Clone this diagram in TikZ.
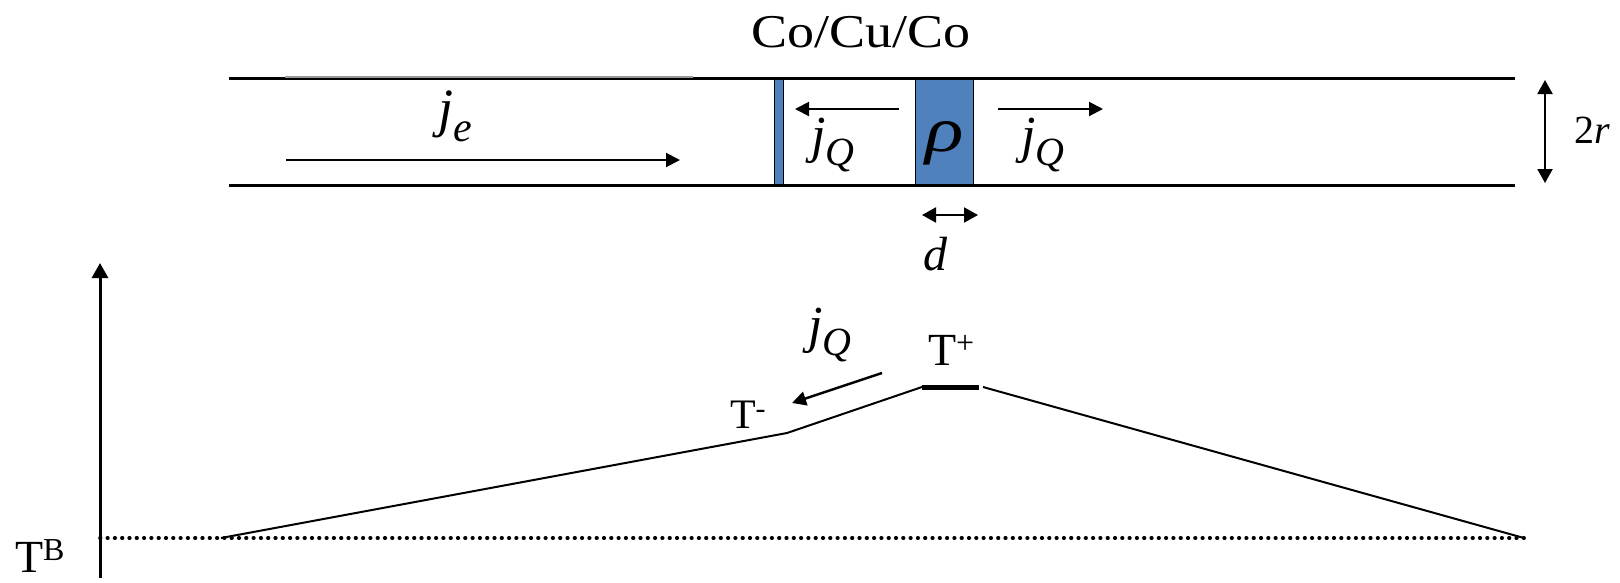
\documentclass[tikz,border=0pt]{standalone}
\usepackage{fontspec}
\setmainfont{Liberation Serif}
\usetikzlibrary{arrows.meta}
\definecolor{cublue}{RGB}{79,129,189}
\newcommand{\fs}[1]{\fontsize{#1}{#1}\selectfont}
\newcommand{\jsym}[1]{{\fs{52}\itshape j}\raisebox{-13pt}{\fs{40}\itshape #1}}
\newcommand{\Tsup}[1]{{\fs{46}T}\raisebox{12pt}{\fs{32}#1}}
\tikzset{
  tube/.style={line width=3pt},
  layer/.style={fill=cublue,draw=black,line width=1pt},
  tip/.style={-{Triangle[length=14pt,width=14pt]}},
  arr/.style={line width=2pt,tip},
  darr/.style={line width=2pt,{Triangle[length=14pt,width=15pt]}-{Triangle[length=14pt,width=15pt]}},
  prof/.style={line width=2pt},
  lbl/.style={inner sep=0pt,outer sep=0pt},
  dotline/.style={line width=3.6pt,line cap=round,dash pattern=on 0.6pt off 6.7pt},
}
\begin{document}
\begin{tikzpicture}[x=1pt,y=-1pt]
\useasboundingbox (0,0) rectangle (1620,582);
% layers
\draw[layer] (774,78) rectangle (783,185);
\draw[layer] (915,78) rectangle (973,185);
% tube
\coordinate (tl) at (229,78); \coordinate (tr) at (1515,78);
\coordinate (bl) at (229,185); \coordinate (br) at (1515,185);
\draw[tube] (tl) -- (tr);
\draw[tube] (bl) -- (br);
\coordinate (g1) at (285,77); \coordinate (g2) at (693,77);
\draw[line width=1.5pt,gray!80] (g1) -- (g2);
% labels in tube
\node[lbl,anchor=base,xscale=1.15] (co) at (861,47) {\fs{47}Co/Cu/Co};
\coordinate (je1) at (286,160); \coordinate (je2) at (680,160);
\draw[arr] (je1) -- (je2);
\node[lbl,anchor=base west] (je) at (438,126) {{\fs{54}\itshape j}\raisebox{-15pt}{\fs{42}\itshape e}};
\coordinate (jl1) at (899,109); \coordinate (jl2) at (795,109);
\draw[arr] (jl1) -- (jl2);
\node[lbl,anchor=base west] (jql) at (811,152) {\jsym{Q}};
\node[lbl,anchor=base,xscale=1.25] (rho) at (945,151) {\fs{64}\itshape ρ};
\coordinate (jr1) at (998,109); \coordinate (jr2) at (1103,109);
\draw[arr] (jr1) -- (jr2);
\node[lbl,anchor=base west] (jqr) at (1021,152) {\jsym{Q}};
\coordinate (d1) at (922,215); \coordinate (d2) at (978,215);
\draw[darr] (d1) -- (d2);
\node[lbl,anchor=base] (d) at (935,270) {\fs{48}\itshape d};
\coordinate (r1) at (1545,80); \coordinate (r2) at (1545,183);
\draw[darr] (r1) -- (r2);
\node[lbl,anchor=base] (r) at (1592,143) {\fs{40}2\itshape r};
% axis
\coordinate (a1) at (100,578); \coordinate (a2) at (100,263);
\draw[line width=3pt,-{Triangle[length=15pt,width=16pt]}] (a1) -- (a2);
\coordinate (b1) at (100,538); \coordinate (b2) at (1525,538);
\draw[dotline] (b1) -- (b2);
\node[lbl,anchor=base west] (tb) at (15,572) {\Tsup{B}};
% profile
\coordinate (p0) at (221,538); \coordinate (p1) at (787,433);
\coordinate (p2) at (922,387); \coordinate (p3) at (979,387);
\coordinate (p4) at (983,387); \coordinate (p5) at (1524,538);
\draw[prof] (p0) -- (p1) -- (p2);
\draw[line width=5pt] (p2) -- (p3);
\draw[prof] (p4) -- (p5);
\node[lbl,anchor=base west] (tm) at (730,428) {{\fs{42}T}\raisebox{10pt}{\fs{30}-}};
\node[lbl,anchor=base west] (tp) at (928,365) {\Tsup{+}};
\coordinate (q1) at (882,373); \coordinate (q2) at (792,403);
\draw[line width=2.5pt,tip] (q1) -- (q2);
\node[lbl,anchor=base west] (jq) at (808,342) {\jsym{Q}};
\end{tikzpicture}
\end{document}
